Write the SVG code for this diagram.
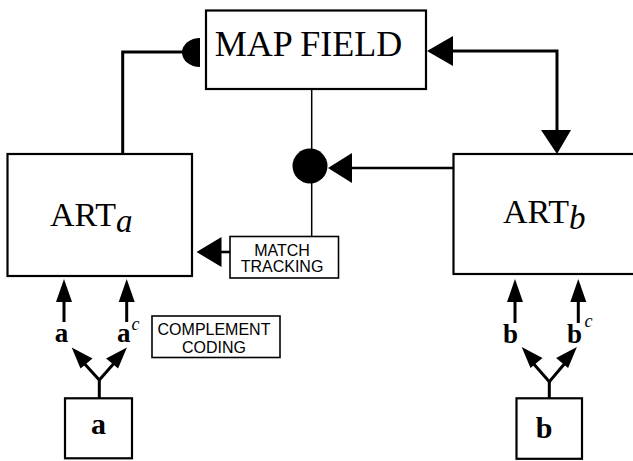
<svg xmlns="http://www.w3.org/2000/svg" width="633" height="461" viewBox="0 0 633 461">
<style>
.box{fill:#fff;stroke:#000;stroke-width:2.2}
.thick{fill:none;stroke:#000;stroke-width:3}
.thin{fill:none;stroke:#000;stroke-width:1.5}
.head{fill:#000;stroke:none}
.serif{font-family:"Liberation Serif","Times New Roman",serif;fill:#000}
.sans{font-family:"Liberation Sans",Arial,sans-serif;fill:#000;font-size:16px;text-anchor:middle}
.bold{font-family:"Liberation Serif","Times New Roman",serif;font-weight:bold;fill:#000}
.it{font-family:"Liberation Serif","Times New Roman",serif;font-style:italic;fill:#000}
</style>
<rect width="633" height="461" fill="#fff"/>
<g id="connectors">
  <polyline class="thick" points="122.7,154 122.7,52 185,52"/>
  <path class="head" d="M200,38 A18,14.5 0 0 0 200,67 Z"/>
  <polyline class="thick" points="450,51 557,51 557,132"/>
  <polygon class="head" points="427,51 453,36 453,66"/>
  <polygon class="head" points="557,154 541,130 571,130"/>
  <line class="thin" x1="311.7" y1="89" x2="311.7" y2="236"/>
  <circle class="head" cx="310" cy="166" r="17.5"/>
  <line class="thick" x1="350" y1="168" x2="453" y2="168" style="stroke-width:2.6"/>
  <polygon class="head" points="328,168 352,153 352,183"/>
  <line class="thick" x1="218" y1="252" x2="230" y2="252" style="stroke-width:2.6"/>
  <polygon class="head" points="196.5,252 221.5,237 221.5,267"/>
  <line class="thick" x1="64" y1="322" x2="64" y2="298"/>
  <polygon class="head" points="64,279 56,302 72,302"/>
  <line class="thick" x1="126.7" y1="322" x2="126.7" y2="298"/>
  <polygon class="head" points="126.7,279 118.7,302 134.7,302"/>
  <line class="thick" x1="515" y1="323" x2="515" y2="298"/>
  <polygon class="head" points="515,279 507,302 523,302"/>
  <line class="thick" x1="578.3" y1="323" x2="578.3" y2="298"/>
  <polygon class="head" points="578.3,279 570.3,302 586.3,302"/>
  <polyline class="thick" points="99.3,398 99.3,380"/>
  <polyline class="thick" points="82,361 99.3,380 116,361"/>
  <polygon class="head" points="71.7,347.5 92.5,358.5 80.5,368.5"/>
  <polygon class="head" points="126.9,347.5 118.1,368.5 106.1,358.5"/>
  <polyline class="thick" points="549.3,398 549.3,381.7"/>
  <polyline class="thick" points="532,362 549.3,381.7 566,362"/>
  <polygon class="head" points="521.7,347 542.5,358 530.5,368"/>
  <polygon class="head" points="576.9,347 568.1,368 556.1,358"/>
</g>
<g id="mapfield">
  <rect class="box" x="206" y="10.5" width="220" height="78.5"/>
  <text class="serif" x="308.5" y="56" font-size="36" text-anchor="middle">MAP FIELD</text>
</g>
<g id="arta">
  <rect class="box" x="7.5" y="154" width="184.5" height="122"/>
  <text class="serif" x="50" y="226" font-size="34">ART<tspan class="it" dy="6" font-size="33">a</tspan></text>
</g>
<g id="artb">
  <rect class="box" x="453.5" y="154" width="190" height="120"/>
  <text class="serif" x="503" y="223" font-size="34">ART<tspan class="it" dy="6" font-size="33">b</tspan></text>
</g>
<g id="matchtracking">
  <rect class="box" x="230" y="236.5" width="108.5" height="41.5" style="stroke-width:1.6"/>
  <text class="sans" x="282" y="255.5">MATCH</text>
  <text class="sans" x="282" y="272">TRACKING</text>
</g>
<g id="complement">
  <rect class="box" x="152" y="316" width="128" height="41.5" style="stroke-width:1.6"/>
  <text class="sans" x="214" y="335">COMPLEMENT</text>
  <text class="sans" x="214" y="352.5">CODING</text>
</g>
<g id="labels">
  <text class="bold" x="61.5" y="342" font-size="27" text-anchor="middle">a</text>
  <text class="bold" x="123.7" y="342" font-size="27" text-anchor="middle">a</text>
  <text class="it" x="131.5" y="330" font-size="18">c</text>
  <text class="bold" x="510.5" y="343" font-size="27" text-anchor="middle">b</text>
  <text class="bold" x="574.5" y="343" font-size="27" text-anchor="middle">b</text>
  <text class="it" x="584.5" y="327" font-size="18">c</text>
</g>
<g id="inputa">
  <rect class="box" x="65" y="398.3" width="67" height="60"/>
  <text class="bold" x="98.5" y="434" font-size="30" text-anchor="middle">a</text>
</g>
<g id="inputb">
  <rect class="box" x="516.5" y="398.3" width="65.5" height="60.5"/>
  <text class="bold" x="544" y="438" font-size="30" text-anchor="middle">b</text>
</g>
</svg>
